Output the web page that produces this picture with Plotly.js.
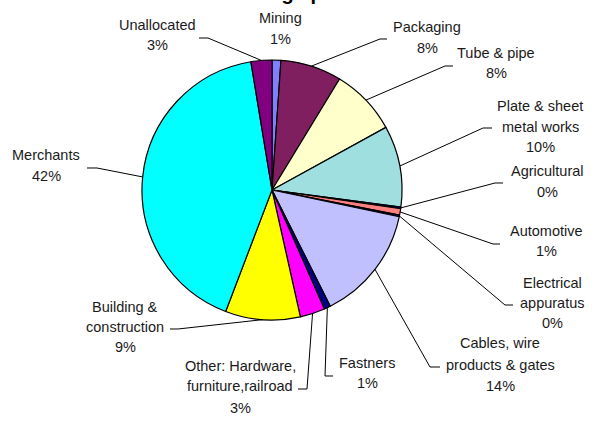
<!DOCTYPE html>
<html>
<head>
<meta charset="utf-8">
<script src="https://cdn.plot.ly/plotly-3.0.1.min.js"></script>
<style>html,body{margin:0;padding:0;background:#fff;}#chart{width:601px;height:428px;}</style>
</head>
<body>
<div id="chart"></div>
<script>
// ---- data ----
const categories = [
  "Mining", "Packaging", "Tube & pipe", "Plate & sheet<br>metal works", "Agricultural",
  "Automotive", "Electrical<br>appuratus", "Cables, wire<br>products & gates", "Fastners",
  "Other: Hardware,<br>furniture,railroad", "Building &<br>construction", "Merchants", "Unallocated"
];
const shares = [1.1, 7.6, 8.3, 10.1, 0.2, 0.8, 0.2, 14.3, 0.8, 3.1, 9.3, 41.6, 2.6];
const colors = ["#8080FF", "#7F1F60", "#FFFFCC", "#A0DFE0", "#000080", "#FF8080", "#000080",
  "#C0C0FF", "#000080", "#FF00FF", "#FFFF00", "#00FFFF", "#800080"];

// ---- layout geometry (pixels) ----
const W = 601, H = 428;
const cx = 272, cy = 190, R = 130;
// label placement: centre x, line y's, elbow points from label towards pie
const labelPos = [
  {x: 280, ys: [18, 39], elbow: null},
  {x: 427, ys: [27, 48], elbow: [[387, 39], [380, 39]]},
  {x: 496, ys: [53, 73], elbow: [[453, 66], [445, 66]]},
  {x: 540, ys: [106, 127, 147], elbow: [[492, 128], [483, 128]]},
  {x: 547, ys: [171, 192], elbow: [[503, 183], [495, 183]]},
  {x: 546, ys: [231, 251], elbow: [[500, 244], [493, 244]]},
  {x: 552, ys: [283, 303, 323], elbow: [[513, 305], [505, 305]]},
  {x: 500, ys: [343, 365, 386], elbow: [[440, 367], [430, 367]]},
  {x: 367, ys: [363, 383], elbow: [[333, 376], [325, 376]]},
  {x: 240, ys: [366, 386, 408], elbow: [[298, 389], [307, 389]]},
  {x: 125, ys: [307, 327, 347], elbow: [[170, 329], [178, 329]]},
  {x: 46, ys: [155, 176], elbow: [[87, 168], [97, 168]]},
  {x: 157, ys: [25, 45], elbow: [[199, 38], [208, 38]]}
];

const px = v => v / W;
const py = v => 1 - v / H;
const total = shares.reduce((a, b) => a + b, 0);
const font = {family: "Liberation Sans, Arial, sans-serif", size: 14.5, color: "#1a1a1a"};

const annotations = [];
const shapes = [];
let cum = 0;
shares.forEach((v, i) => {
  const mid = (cum + v / 2) / total * 2 * Math.PI;
  cum += v;
  const lines = categories[i].split("<br>").concat([Math.round(v / total * 100) + "%"]);
  const lp = labelPos[i];
  lines.forEach((t, k) => {
    annotations.push({xref: "paper", yref: "paper", x: px(lp.x), y: py(lp.ys[k]),
      text: t, showarrow: false, xanchor: "center", yanchor: "middle", font: font});
  });
  if (lp.elbow) {
    const ex = cx + R * Math.sin(mid), ey = cy - R * Math.cos(mid);
    const pts = lp.elbow.concat([[ex, ey]]);
    const path = pts.map((p, k) => (k ? "L" : "M") + px(p[0]).toFixed(5) + "," + py(p[1]).toFixed(5)).join(" ");
    shapes.push({type: "path", xref: "paper", yref: "paper", path: path,
      line: {color: "#000", width: 1}});
  }
});

const trace = {
  type: "pie",
  labels: categories,
  values: shares,
  sort: false,
  direction: "clockwise",
  rotation: 0,
  marker: {colors: colors, line: {color: "#000", width: 1.2}},
  textinfo: "none",
  hoverinfo: "skip",
  domain: {x: [px(cx - R), px(cx + R)], y: [py(cy + R), py(cy - R)]},
  showlegend: false
};

const layout = {
  width: W, height: H,
  margin: {l: 0, r: 0, t: 0, b: 0},
  paper_bgcolor: "#fff",
  title: {text: "Steel usage per sector", x: 0.5, xanchor: "center", y: 1, yref: "container", yanchor: "bottom",
    font: {family: "Liberation Sans, Arial, sans-serif", size: 20, weight: "bold", color: "#000"}},
  annotations: annotations,
  shapes: shapes,
  showlegend: false
};

Plotly.newPlot("chart", [trace], layout, {staticPlot: true, displayModeBar: false});
</script>
</body>
</html>
